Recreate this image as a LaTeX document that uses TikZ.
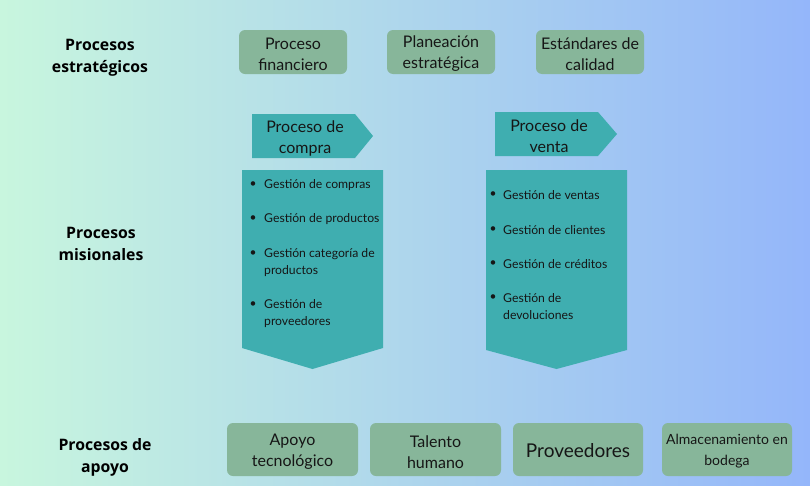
\documentclass[tikz,border=0pt]{standalone}
\usepackage{fontspec}
\setmainfont{Lato}
\newfontfamily\etiquetafont{Open Sans}
\usetikzlibrary{positioning}
\definecolor{fondoizq}{HTML}{C8F6DE}
\definecolor{fondomed}{HTML}{B2DCE8}
\definecolor{fondoder}{HTML}{94B6FA}
\definecolor{verdecaja}{HTML}{87B69A}
\definecolor{tealproc}{HTML}{3FAEB0}
\definecolor{textoosc}{HTML}{161616}
\tikzset{
	etiqueta/.style={align=center, inner sep=0pt, font=\etiquetafont\bfseries\fontsize{15.8}{22}\selectfont, text=black},
	cajaverde/.style={shape=rectangle, rounded corners=6pt, fill=verdecaja, inner sep=0pt},
	textocaja/.style={align=center, inner sep=0pt, font=\fontsize{16}{21}\selectfont, text=textoosc},
	tituloproc/.style={align=center, inner sep=0pt, font=\fontsize{16}{21}\selectfont, text=textoosc},
	item/.style={anchor=west, align=left, inner sep=0pt, font=\fontsize{12.2}{17.5}\selectfont, text=textoosc},
	vineta/.style={inner sep=0pt, font=\fontsize{12}{17}\selectfont, text=textoosc},
}

\begin{document}
\begin{tikzpicture}[x=1pt, y=-1pt]
	% Fondo:
	\shade[left color=fondoizq, middle color=fondomed, right color=fondoder] (0,0) rectangle (810,485);
	\useasboundingbox (0,0) rectangle (810,485);
	% Etiquetas de nivel:
	\node[etiqueta] (estrategicos) at (100, 57.5){Procesos\\estratégicos};
	\node[etiqueta] (misionales) at (101, 243.5){Procesos\\misionales};
	\node[etiqueta] (apoyo) at (105, 457){Procesos de\\apoyo};
	% Procesos estratégicos:
	\node[cajaverde, minimum width=108pt, minimum height=44pt] (financiero) at (293, 52){} node[textocaja] at (293, 54.5){Proceso\\financiero};
	\node[cajaverde, minimum width=108pt, minimum height=44pt] (planeacion) at (441, 52){} node[textocaja] at (441, 54){Planeación\\estratégica};
	\node[cajaverde, minimum width=108pt, minimum height=44pt] (calidad) at (590, 52){} node[textocaja] at (590, 54){Estándares de\\calidad};
	% Proceso de compra:
	\fill[tealproc] (252, 114) -- (355, 114) -- (373, 136) -- (355, 158) -- (252, 158) -- cycle;
	\node[tituloproc] (compra) at (305, 138.5){Proceso de\\compra};
	\fill[tealproc] (242, 170) -- (383, 170) -- (383, 348) -- (312.5, 369) -- (242, 348) -- cycle;
	\node[vineta] (vc1) at (253, 184.5){\textbullet};
	\node[item] (gc1) at (264, 185){Gestión de compras};
	\node[vineta] (vc2) at (253, 219){\textbullet};
	\node[item] (gc2) at (264, 219.5){Gestión de productos};
	\node[vineta] (vc3) at (253, 254){\textbullet};
	\node[item] (gc3) at (264, 262.5){Gestión categoría de\\productos};
	\node[vineta] (vc4) at (253, 305){\textbullet};
	\node[item] (gc4) at (264, 313.5){Gestión de\\proveedores};
	% Proceso de venta:
	\fill[tealproc] (495, 112) -- (598, 112) -- (617, 134) -- (598, 156) -- (495, 156) -- cycle;
	\node[tituloproc] (venta) at (549, 136.5){Proceso de\\venta};
	\fill[tealproc] (486, 170) -- (627, 170) -- (627, 350) -- (556.5, 369) -- (486, 350) -- cycle;
	\node[vineta] (vv1) at (493, 194.5){\textbullet};
	\node[item] (gv1) at (503, 195){Gestión de ventas};
	\node[vineta] (vv2) at (493, 229.5){\textbullet};
	\node[item] (gv2) at (503, 230){Gestión de clientes};
	\node[vineta] (vv3) at (493, 263.5){\textbullet};
	\node[item] (gv3) at (503, 264){Gestión de créditos};
	\node[vineta] (vv4) at (493, 297.5){\textbullet};
	\node[item] (gv4) at (503, 306.5){Gestión de\\devoluciones};
	% Procesos de apoyo:
	\node[cajaverde, minimum width=131pt, minimum height=53pt] (tecnologico) at (292.5, 449.5){} node[textocaja] at (292.5, 452){Apoyo\\tecnológico};
	\node[cajaverde, minimum width=131pt, minimum height=53pt] (talento) at (435.5, 449.5){} node[textocaja] at (435.5, 452){Talento\\humano};
	\node[cajaverde, minimum width=130pt, minimum height=53pt] (proveedores) at (578, 449.5){} node[textocaja, font=\fontsize{19}{21}\selectfont] at (578, 451){Proveedores};
	\node[cajaverde, minimum width=130pt, minimum height=53pt] (bodega) at (727, 449.5){} node[textocaja, font=\fontsize{14}{21}\selectfont] at (727, 451){Almacenamiento en\\bodega};
\end{tikzpicture}
\end{document}
